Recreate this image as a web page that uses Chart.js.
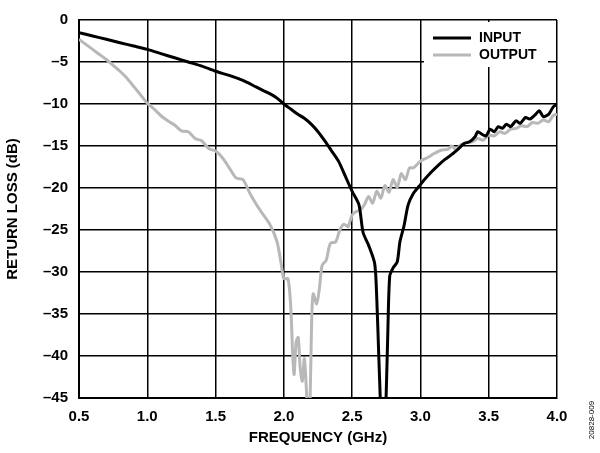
<!DOCTYPE html>
<html>
<head>
<meta charset="utf-8">
<script src="https://cdn.jsdelivr.net/npm/chart.js@4/dist/chart.umd.min.js"></script>
<style>
html,body{margin:0;padding:0;background:#fff;}
#wrap{width:600px;height:453px;position:relative;}
</style>
</head>
<body>
<div id="wrap"><canvas id="c" width="600" height="453"></canvas></div>
<script>
const xTicks = [0.5, 1.0, 1.5, 2.0, 2.5, 3.0, 3.5, 4.0];
const yTicks = [0, -5, -10, -15, -20, -25, -30, -35, -40, -45];
const seriesNames = ["INPUT", "OUTPUT"];
const noteText = "20828-009";

const freqIn = [0.50,0.60,0.70,0.80,0.90,1.00,1.10,1.20,1.30,1.40,1.50,1.60,1.70,1.80,1.90,1.95,2.00,2.05,2.10,2.15,2.20,2.25,2.30,2.35,2.40,2.45,2.50,2.55,2.58,2.62,2.665,2.68,2.695,2.71,2.725,2.745,2.76,2.775,2.80,2.83,2.85,2.88,2.91,2.95,2.99,3.03,3.08,3.13,3.18,3.23,3.28,3.32,3.36,3.40,3.42,3.45,3.48,3.51,3.54,3.57,3.60,3.63,3.66,3.70,3.73,3.77,3.80,3.84,3.87,3.90,3.94,3.97,4.00];
const lossIn = [-1.5,-1.9,-2.3,-2.7,-3.1,-3.5,-4.0,-4.5,-5.0,-5.5,-6.1,-6.6,-7.2,-8.0,-8.8,-9.3,-10.0,-10.6,-11.2,-11.7,-12.4,-13.3,-14.4,-15.6,-16.8,-18.6,-20.4,-22.0,-25.3,-26.8,-29.0,-33.0,-40.0,-47.0,-55.0,-47.0,-38.0,-30.5,-29.5,-28.8,-26.4,-24.5,-22.0,-20.6,-19.8,-19.0,-18.1,-17.3,-16.6,-16.0,-15.3,-14.7,-14.5,-13.9,-13.3,-13.6,-13.8,-13.0,-13.3,-12.7,-12.9,-12.4,-12.7,-12.0,-12.3,-11.6,-11.8,-11.3,-10.8,-11.5,-11.2,-10.4,-10.0];

const freqOut = [0.50,0.55,0.60,0.65,0.70,0.75,0.80,0.85,0.90,0.95,1.00,1.05,1.10,1.15,1.20,1.25,1.30,1.35,1.40,1.45,1.50,1.55,1.60,1.65,1.70,1.75,1.80,1.85,1.90,1.95,1.98,2.00,2.03,2.05,2.065,2.075,2.09,2.105,2.12,2.135,2.15,2.165,2.175,2.19,2.205,2.215,2.24,2.26,2.28,2.31,2.34,2.38,2.41,2.44,2.47,2.50,2.53,2.56,2.59,2.62,2.65,2.68,2.71,2.74,2.77,2.80,2.83,2.86,2.89,2.92,2.95,3.00,3.05,3.10,3.15,3.20,3.23,3.26,3.30,3.34,3.38,3.42,3.46,3.50,3.54,3.58,3.62,3.66,3.70,3.74,3.78,3.82,3.86,3.90,3.94,3.97,4.00];
const lossOut = [-2.3,-2.9,-3.5,-4.1,-4.7,-5.4,-6.1,-6.9,-7.9,-8.9,-9.9,-10.6,-11.4,-12.0,-12.5,-13.2,-13.3,-14.1,-14.4,-15.3,-15.6,-16.4,-17.6,-18.8,-19.0,-20.6,-22.0,-23.2,-24.4,-26.4,-29.0,-30.8,-30.8,-34.0,-40.0,-42.2,-38.3,-37.8,-41.5,-43.0,-40.3,-44.0,-48.0,-46.0,-35.0,-32.6,-33.8,-32.0,-29.2,-28.6,-26.6,-26.4,-25.0,-24.3,-24.6,-23.2,-22.8,-22.6,-22.0,-21.0,-21.8,-20.4,-21.2,-19.7,-20.5,-19.0,-19.9,-18.3,-19.0,-17.6,-17.6,-16.8,-16.4,-15.9,-15.5,-15.4,-15.0,-15.4,-14.8,-14.6,-14.5,-14.1,-14.3,-13.7,-13.8,-13.3,-13.5,-13.0,-12.9,-12.6,-12.7,-12.2,-12.3,-11.9,-12.1,-11.4,-11.2];

const toPts = (xs, ys) => xs.map((x, i) => ({x: x, y: ys[i]}));
const FONT = "'Liberation Sans', Arial, sans-serif";
const LINE_COLORS = ["#000000", "#b8b8b8"];

const legendPlugin = {
  id: 'boxLegend',
  afterDatasetsDraw(chart) {
    const ctx = chart.ctx;
    ctx.save();
    ctx.fillStyle = '#ffffff';
    ctx.fillRect(424, 22, 124, 45);
    ctx.font = "bold 14px " + FONT;
    ctx.textBaseline = 'middle';
    ctx.textAlign = 'left';
    chart.data.datasets.forEach((ds, i) => {
      const y = 38 + i * 17;
      ctx.strokeStyle = ds.borderColor;
      ctx.lineWidth = 3;
      ctx.beginPath();
      ctx.moveTo(433, y);
      ctx.lineTo(471, y);
      ctx.stroke();
      ctx.fillStyle = '#000';
      ctx.fillText(ds.label, 479, y + 0.5);
    });
    ctx.restore();
  },
  afterDraw(chart) {
    const ctx = chart.ctx;
    ctx.save();
    ctx.translate(592, 420);
    ctx.rotate(-Math.PI / 2);
    ctx.font = "8px " + FONT;
    ctx.fillStyle = '#000';
    ctx.textAlign = 'center';
    ctx.textBaseline = 'middle';
    ctx.fillText(noteText, 0, 0);
    ctx.restore();
  }
};

new Chart(document.getElementById('c'), {
  type: 'line',
  data: {
    datasets: [
      {label: seriesNames[0], data: toPts(freqIn, lossIn), borderColor: LINE_COLORS[0], borderWidth: 3, pointRadius: 0, tension: 0.25, fill: false},
      {label: seriesNames[1], data: toPts(freqOut, lossOut), borderColor: LINE_COLORS[1], borderWidth: 3, pointRadius: 0, tension: 0.25, fill: false}
    ]
  },
  options: {
    responsive: false,
    animation: false,
    layout: {padding: {top: 15, right: 43, left: 0, bottom: 0}},
    plugins: {legend: {display: false}, tooltip: {enabled: false}},
    scales: {
      x: {
        type: 'linear', min: 0.5, max: 4.0,
        afterBuildTicks: (s) => { s.ticks = xTicks.map(v => ({value: v})); },
        afterFit: (s) => { s.height = 55; },
        ticks: {
          padding: 10, color: '#000', maxRotation: 0,
          font: {family: FONT, size: 15, weight: 'bold'},
          callback: (v) => Number(v).toFixed(1)
        },
        grid: {color: '#000', lineWidth: 1.5, drawTicks: false},
        border: {color: '#000', width: 2},
        title: {display: true, text: 'FREQUENCY (GHz)', color: '#000', font: {family: FONT, size: 15, weight: 'bold'}, padding: {top: 0, bottom: 6}}
      },
      y: {
        min: -45, max: 0,
        afterBuildTicks: (s) => { s.ticks = yTicks.map(v => ({value: v})); },
        afterFit: (s) => { s.width = 79; },
        ticks: {
          padding: 11, color: '#000',
          font: {family: FONT, size: 15, weight: 'bold'},
          callback: (v) => v < 0 ? '\u2013' + Math.abs(v) : String(v)
        },
        grid: {color: '#000', lineWidth: 1.5, drawTicks: false},
        border: {color: '#000', width: 2},
        title: {display: true, text: 'RETURN LOSS (dB)', color: '#000', font: {family: FONT, size: 15, weight: 'bold'}, padding: {top: 4, bottom: 0}}
      }
    }
  },
  plugins: [legendPlugin]
});
</script>
</body>
</html>
